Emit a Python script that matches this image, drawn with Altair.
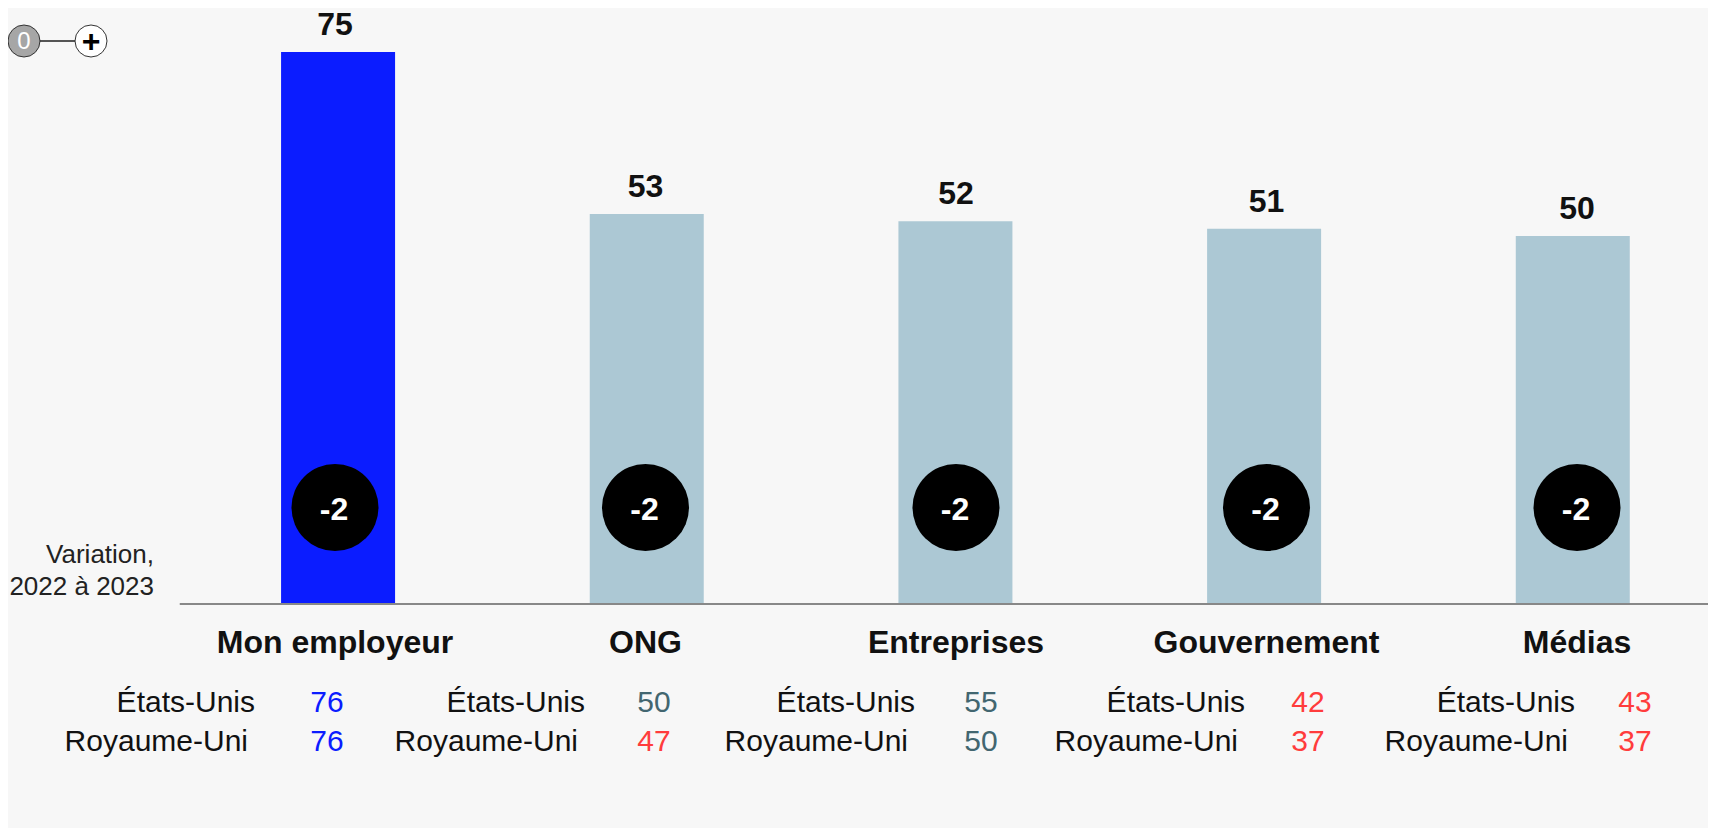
import altair as alt
import pandas as pd

# ---- data ----
categories = ["Mon employeur", "ONG", "Entreprises", "Gouvernement", "Médias"]
trust_2023 = [75, 53, 52, 51, 50]
change_2022_2023 = [-2, -2, -2, -2, -2]
countries = ["États-Unis", "Royaume-Uni"]
us_values = [76, 50, 55, 42, 43]
uk_values = [76, 47, 50, 37, 37]
note_lines = ["Variation,", "2022 à 2023"]

# ---- layout ----
W, H = 1700, 820
BAR_DOM = [-1.0531, 4.4219]     # bar columns
LBL_DOM = [-0.74848, 4.40303]   # country label columns (right edge)
NUM_DOM = [-0.97554, 4.22324]   # country value columns
Y_DOM = [-30.43, 80.98]
FONT = "Liberation Sans"

BLUE = "#0b1cff"
LIGHT = "#acc8d4"
TEAL = "#426670"
RED = "#ff3c3c"
INK = "#111111"

bars_df = pd.DataFrame({
    "idx": list(range(len(categories))),
    "cat": categories,
    "value": trust_2023,
    "chg": [f"{c:+d}" if c != 0 else "0" for c in change_2022_2023],
})

rows = []
for k, cat in enumerate(categories):
    rows.append({"idx": k, "country": countries[0], "value": us_values[k]})
    rows.append({"idx": k, "country": countries[1], "value": uk_values[k]})
table_df = pd.DataFrame(rows)


def xq(field, dom):
    return alt.X(field, type="quantitative", scale=alt.Scale(domain=dom), axis=None)


yscale = alt.Scale(domain=Y_DOM)

bars = alt.Chart(bars_df).mark_bar(size=114).encode(
    x=xq("idx", BAR_DOM),
    y=alt.Y("value:Q", scale=yscale, axis=None),
    y2=alt.datum(0),
    color=alt.Color("value:Q", scale=alt.Scale(type="threshold", domain=[60], range=[LIGHT, BLUE]), legend=None),
)

baseline_df = pd.DataFrame({"start": [-0.5], "end": [BAR_DOM[1]], "zero": [0]})
baseline = alt.Chart(baseline_df).mark_rule(color="#888888", strokeWidth=2).encode(
    x=xq("start", BAR_DOM),
    x2="end:Q",
    y=alt.Y("zero:Q", scale=yscale, axis=None),
)

value_labels = alt.Chart(bars_df).mark_text(
    font=FONT, fontSize=32, fontWeight="bold", color=INK, baseline="alphabetic", dy=-17
).encode(
    x=xq("idx", BAR_DOM),
    y=alt.Y("value:Q", scale=yscale, axis=None),
    text="value:Q",
)

circles = alt.Chart(bars_df).mark_circle(size=7569, color="black", opacity=1).encode(
    x=xq("idx", BAR_DOM),
    y=alt.value(499.5),
)
circle_text = alt.Chart(bars_df).mark_text(
    font=FONT, fontSize=32, fontWeight="bold", color="white", baseline="alphabetic", dx=-1
).encode(
    x=xq("idx", BAR_DOM),
    y=alt.value(512),
    text="chg:N",
)

cat_labels = alt.Chart(bars_df).mark_text(
    font=FONT, fontSize=32, fontWeight="bold", color=INK, baseline="alphabetic"
).encode(
    x=xq("idx", BAR_DOM),
    y=alt.value(645),
    text="cat:N",
)

layers = [bars, baseline, value_labels, circles, circle_text, cat_labels]

row_y = [704, 743]
row_dx = [0, -7]
for r, cname in enumerate(countries):
    sub = table_df[table_df["country"] == cname]
    layers.append(
        alt.Chart(sub).mark_text(
            font=FONT, fontSize=30, color=INK, align="right", baseline="alphabetic", dx=row_dx[r]
        ).encode(x=xq("idx", LBL_DOM), y=alt.value(row_y[r]), text="country:N")
    )
    layers.append(
        alt.Chart(sub).mark_text(
            font=FONT, fontSize=30, align="center", baseline="alphabetic"
        ).encode(
            x=xq("idx", NUM_DOM),
            y=alt.value(row_y[r]),
            text="value:Q",
            color=alt.Color("value:Q", scale=alt.Scale(type="threshold", domain=[50, 60], range=[RED, TEAL, BLUE]), legend=None),
        )
    )

note_y = [555, 587]
for i, line in enumerate(note_lines):
    layers.append(
        alt.Chart(pd.DataFrame({"t": [line]})).mark_text(
            font=FONT, fontSize=26, color="#222222", align="right", baseline="alphabetic"
        ).encode(x=alt.value(146), y=alt.value(note_y[i]), text="t:N")
    )

# scale key at top-left
key_df = pd.DataFrame({"lo": ["0"], "hi": ["+"]})
key_line = alt.Chart(key_df).mark_rule(color="#555555", strokeWidth=2).encode(
    x=alt.value(0), x2=alt.value(83), y=alt.value(33)
)
key_lo = alt.Chart(key_df).mark_point(
    shape="circle", size=1024, filled=True, fill="#a6a6a6", stroke="#333333", strokeWidth=1, opacity=1
).encode(x=alt.value(16), y=alt.value(33))
key_lo_t = alt.Chart(key_df).mark_text(
    font=FONT, fontSize=24, color="white", baseline="middle"
).encode(x=alt.value(16), y=alt.value(34), text="lo:N")
key_hi = alt.Chart(key_df).mark_point(
    shape="circle", size=1024, filled=True, fill="white", stroke="#333333", strokeWidth=1, opacity=1
).encode(x=alt.value(83), y=alt.value(33))
key_hi_t = alt.Chart(key_df).mark_text(
    font=FONT, fontSize=32, fontWeight="bold", color="black", baseline="middle"
).encode(x=alt.value(83), y=alt.value(34), text="hi:N")

layers += [key_line, key_lo, key_lo_t, key_hi, key_hi_t]

chart = alt.layer(*layers).resolve_scale(x="independent", color="independent").properties(
    width=W, height=H, padding=0, autosize=alt.AutoSizeParams(type="none"), background="#f7f7f7"
).configure_view(strokeWidth=0).configure_text(font=FONT)

chart.save("out.html", embed_options={"renderer": "svg", "actions": False})
